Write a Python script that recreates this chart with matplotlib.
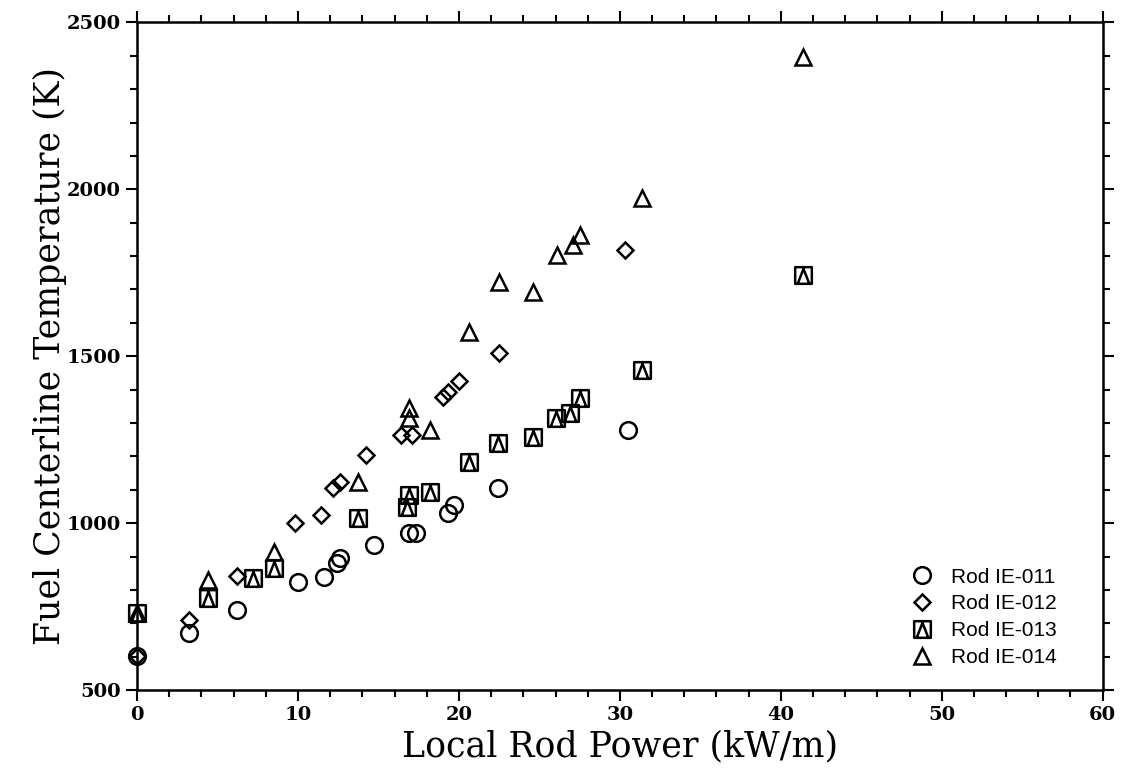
import numpy as np
import matplotlib
matplotlib.use("Agg")
import matplotlib.pyplot as plt
from matplotlib.path import Path
from matplotlib.ticker import MultipleLocator

# Rod IE-011 (circles)
x_011 = [0.0, 3.2, 6.2, 10.0, 11.6, 12.4, 12.6, 14.7, 16.9, 17.3, 19.3, 19.7, 22.4, 30.5]
t_011 = [602, 670, 740, 823, 838, 880, 895, 934, 970, 970, 1030, 1054, 1105, 1278]

# Rod IE-012 (diamonds)
x_012 = [0.0, 3.2, 6.2, 9.8, 11.4, 12.2, 12.6, 14.2, 16.4, 17.1, 19.0, 19.3, 20.0, 22.5, 30.3]
t_012 = [602, 710, 841, 1000, 1024, 1105, 1123, 1204, 1263, 1263, 1377, 1392, 1425, 1509, 1817]

# Rod IE-013 (boxed triangles)
x_013 = [0.0, 4.4, 7.2, 8.5, 13.7, 16.8, 16.9, 18.2, 20.6, 22.4, 24.6, 26.0, 26.9, 27.5, 31.4, 41.4]
t_013 = [730, 775, 835, 865, 1015, 1048, 1084, 1093, 1183, 1240, 1257, 1314, 1329, 1374, 1458, 1742]

# Rod IE-014 (triangles)
x_014 = [0.0, 4.4, 8.5, 13.7, 16.9, 16.9, 18.2, 20.6, 22.5, 24.6, 26.1, 27.1, 27.5, 31.4, 41.4]
t_014 = [730, 829, 913, 1123, 1344, 1314, 1278, 1572, 1722, 1692, 1802, 1832, 1862, 1973, 2395]

labels = ["Rod IE-011", "Rod IE-012", "Rod IE-013", "Rod IE-014"]

# square with a triangle drawn inside it
verts = [(-1, -1), (1, -1), (1, 1), (-1, 1), (-1, -1),
         (-0.7, -1), (0, 0.8), (0.7, -1)]
codes = [Path.MOVETO, Path.LINETO, Path.LINETO, Path.LINETO, Path.CLOSEPOLY,
         Path.MOVETO, Path.LINETO, Path.LINETO]
box_tri = Path(verts, codes)

fig = plt.figure(figsize=(11.24, 7.71), dpi=100)
ax = fig.add_axes([0.122, 0.105, 0.859, 0.866])

kw = dict(linestyle="none", color="black", markerfacecolor="none",
          markeredgewidth=1.8, clip_on=False)
ax.plot(x_011, t_011, marker="o", markersize=12, label=labels[0], **kw)
ax.plot(x_012, t_012, marker="D", markersize=8, label=labels[1], **kw)
ax.plot(x_013, t_013, marker=box_tri, markersize=12, label=labels[2], **kw)
ax.plot(x_014, t_014, marker="^", markersize=12, label=labels[3], **kw)

ax.set_xlim(0, 60)
ax.set_ylim(500, 2500)
ax.xaxis.set_major_locator(MultipleLocator(10))
ax.xaxis.set_minor_locator(MultipleLocator(2))
ax.yaxis.set_major_locator(MultipleLocator(500))
ax.yaxis.set_minor_locator(MultipleLocator(100))
ax.tick_params(which="both", direction="out", top=True, right=True, width=1.5)
ax.tick_params(which="major", length=8)
ax.tick_params(which="minor", length=5)
for s in ax.spines.values():
    s.set_linewidth(1.8)

for lab in ax.get_xticklabels() + ax.get_yticklabels():
    lab.set_family("DejaVu Serif")
    lab.set_fontweight("bold")
    lab.set_fontsize(14)

ax.set_xlabel("Local Rod Power (kW/m)", family="DejaVu Serif", fontsize=25, labelpad=4)
ax.set_ylabel("Fuel Centerline Temperature (K)", family="DejaVu Serif", fontsize=25, labelpad=0)

ax.legend(loc="lower right", bbox_to_anchor=(0.972, 0.006), frameon=False,
          prop={"family": "Liberation Sans", "size": 15}, handletextpad=0.8,
          labelspacing=0.38, handlelength=1.2)

fig.savefig("out.png", dpi=100)
